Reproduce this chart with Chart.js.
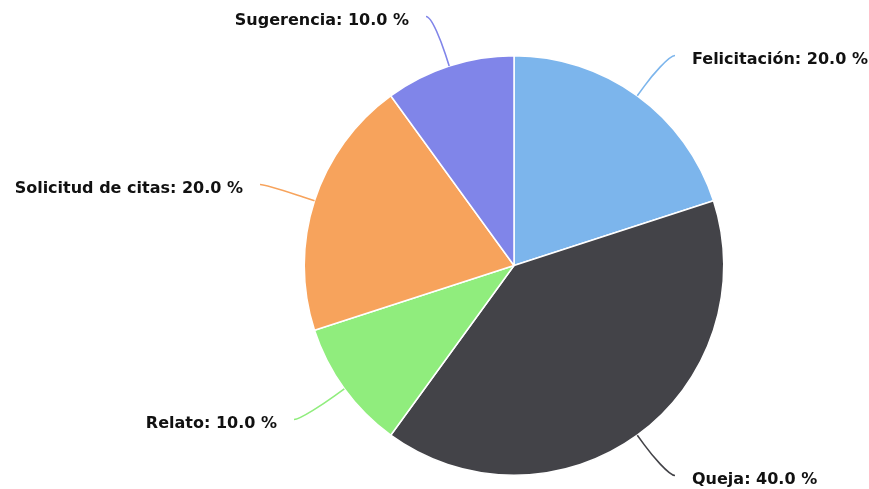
<!DOCTYPE html>
<html>
<head>
<meta charset="utf-8">
<script src="https://cdn.jsdelivr.net/npm/chart.js@4"></script>
<style>
  html, body { margin: 0; padding: 0; background: #fff; }
  #wrap { width: 869px; height: 489px; }
</style>
</head>
<body>
<div id="wrap"><canvas id="pieChart" width="869" height="489"></canvas></div>
<script>
// share of each request type, in percent
const categories = ['Felicitación', 'Queja', 'Relato', 'Solicitud de citas', 'Sugerencia'];
const shares = [20, 40, 10, 20, 10];
const colors = ['#7cb5ec', '#434348', '#90ed7d', '#f7a35c', '#8085e9'];

// where each label sits, relative to the pie centre
const labelOffsets = [[178, -206], [178, 214], [-237, 158], [-271, -77], [-105, -245]];

const outsideLabels = {
    id: 'outsideLabels',
    afterDatasetsDraw(chart) {
        const ctx = chart.ctx;
        const arcs = chart.getDatasetMeta(0).data;
        const total = shares.reduce((a, b) => a + b, 0);
        ctx.save();
        ctx.font = 'bold 16px "DejaVu Sans", sans-serif';
        ctx.textBaseline = 'middle';
        arcs.forEach((arc, i) => {
            const mid = (arc.startAngle + arc.endAngle) / 2;
            const cx = arc.x, cy = arc.y, r = arc.outerRadius;
            const tx = cx + Math.cos(mid) * r, ty = cy + Math.sin(mid) * r;
            const bx = cx + Math.cos(mid) * (r + 12), by = cy + Math.sin(mid) * (r + 12);
            const lx = cx + labelOffsets[i][0], ly = cy + labelOffsets[i][1];
            const onRight = labelOffsets[i][0] > 0;
            const sx = onRight ? lx - 17 : lx + 17, sy = ly - 4;

            // soft connector from label to slice edge
            ctx.strokeStyle = colors[i];
            ctx.lineWidth = 1.6;
            ctx.beginPath();
            ctx.moveTo(sx, sy);
            ctx.bezierCurveTo(sx + (onRight ? -6 : 6), sy, 2 * bx - tx, 2 * by - ty, bx, by);
            ctx.lineTo(tx, ty);
            ctx.stroke();

            const pct = shares[i] / total * 100;
            ctx.fillStyle = '#111';
            ctx.textAlign = onRight ? 'left' : 'right';
            ctx.fillText(categories[i] + ': ' + pct.toFixed(1) + ' %', lx, ly);
        });
        ctx.restore();
    }
};

new Chart(document.getElementById('pieChart').getContext('2d'), {
    type: 'pie',
    data: {
        labels: categories,
        datasets: [{
            data: shares,
            backgroundColor: colors,
            borderColor: '#ffffff',
            borderWidth: 1.5
        }]
    },
    options: {
        responsive: false,
        animation: false,
        layout: { padding: { top: 55, bottom: 13, left: 200, right: 41 } },
        plugins: {
            legend: { display: false },
            tooltip: { enabled: false }
        }
    },
    plugins: [outsideLabels]
});
</script>
</body>
</html>
